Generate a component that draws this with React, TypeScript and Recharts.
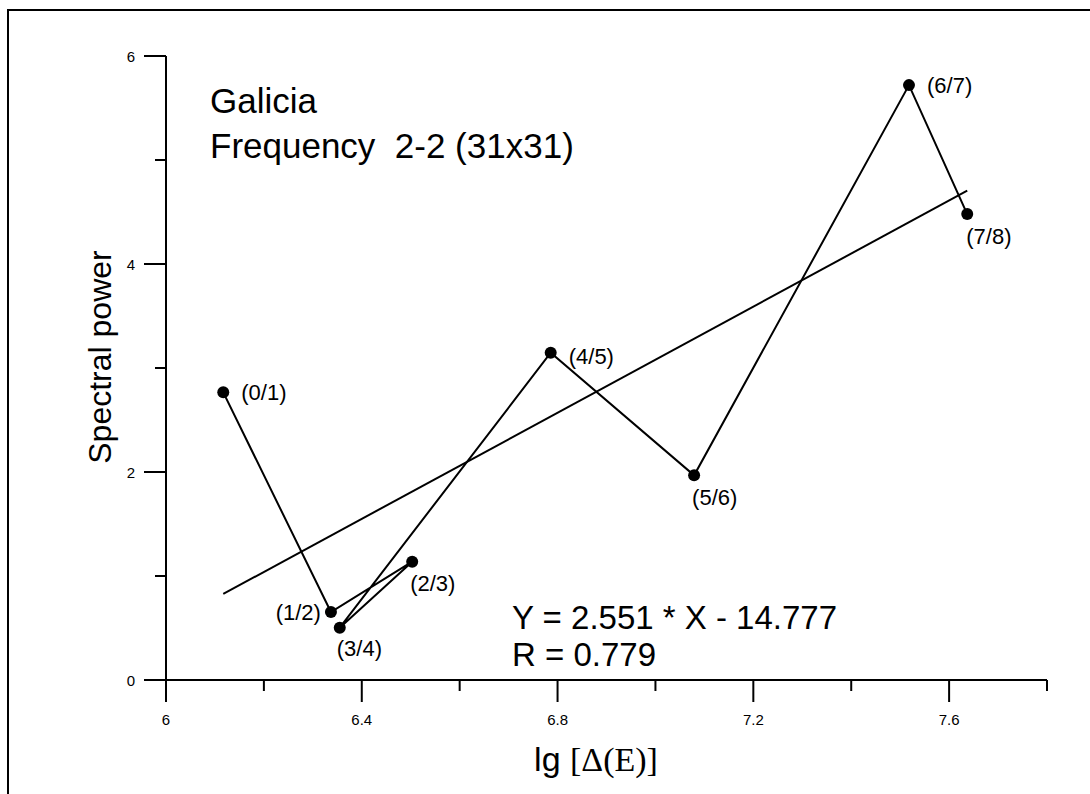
import React from "react";
import { ComposedChart, Line, XAxis, YAxis, ReferenceLine } from "recharts";

// lg[Δ(E)] vs spectral power, pairs of levels
const pairLabels = ["(0/1)", "(1/2)", "(2/3)", "(3/4)", "(4/5)", "(5/6)", "(6/7)", "(7/8)"];
const lgDeltaE = [6.117, 6.337, 6.503, 6.355, 6.786, 7.079, 7.518, 7.637];
const spectralPower = [2.766, 0.654, 1.138, 0.503, 3.147, 1.968, 5.72, 4.48];

// linear fit Y = a * X + b
const fitSlope = 2.551;
const fitIntercept = -14.777;
const fitR = 0.779;

const xTicks = [6, 6.2, 6.4, 6.6, 6.8, 7, 7.2, 7.4, 7.6, 7.8];
const xTickLabels = ["6", "", "6.4", "", "6.8", "", "7.2", "", "7.6", ""];
const yTicks = [0, 1, 2, 3, 4, 5, 6];
const yTickLabels = ["0", "", "2", "", "4", "", "6"];

// where each point's caption sits relative to the dot
const labelPlacement: [number, number, "start" | "end"][] = [
  [18, 0, "start"],
  [-10, 0, "end"],
  [-2, 21, "start"],
  [-3, 20, "start"],
  [18, 3, "start"],
  [-2, 22, "start"],
  [18, 0, "start"],
  [-1, 22, "start"],
];

const SANS = "'Liberation Sans', Arial, sans-serif";
const SERIF = "'Liberation Serif', 'Times New Roman', serif";

const points = lgDeltaE.map((x, i) => ({ x, y: spectralPower[i], name: pairLabels[i] }));
const xMin = Math.min(...lgDeltaE);
const xMax = Math.max(...lgDeltaE);
const fitPoints = [xMin, xMax].map((x) => ({ x, y: fitSlope * x + fitIntercept }));

const XTick = (props: any) => {
  const { x, y, index } = props;
  const label = xTickLabels[index];
  const len = label ? 22 : 11;
  return (
    <g>
      <line x1={x} y1={y} x2={x} y2={y + len} stroke="#000" strokeWidth={2} />
      {label && (
        <text x={x} y={y + 45} textAnchor="middle" fontSize={15} fontFamily={SANS} fill="#000">
          {label}
        </text>
      )}
    </g>
  );
};

const YTick = (props: any) => {
  const { x, y, index } = props;
  const label = yTickLabels[index];
  const len = label ? 22 : 11;
  return (
    <g>
      <line x1={x - len} y1={y} x2={x} y2={y} stroke="#000" strokeWidth={2} />
      {label && (
        <text x={x - 31} y={y + 5.5} textAnchor="end" fontSize={15} fontFamily={SANS} fill="#000">
          {label}
        </text>
      )}
    </g>
  );
};

const PairDot = (props: any) => {
  const { cx, cy, index } = props;
  const [dx, dy, anchor] = labelPlacement[index];
  return (
    <g key={`pt-${index}`}>
      <circle cx={cx} cy={cy} r={6} fill="#000" />
      <text
        x={cx + dx}
        y={cy + dy + 8}
        textAnchor={anchor}
        fontSize={22}
        fontFamily={SANS}
        fill="#000"
      >
        {pairLabels[index]}
      </text>
    </g>
  );
};

export default function App() {
  return (
    <div
      style={{
        position: "absolute",
        left: 0,
        top: 0,
        width: 1090,
        height: 794,
        background: "#fff",
        overflow: "hidden",
      }}
    >
      <div
        style={{
          position: "absolute",
          left: 7,
          top: 9,
          width: 1083,
          height: 785,
          boxSizing: "border-box",
          borderLeft: "2px solid #000",
          borderTop: "2px solid #000",
        }}
      />
      <ComposedChart
        width={1090}
        height={794}
        margin={{ top: 56, right: 43, bottom: 74, left: 106 }}
        style={{ position: "absolute", left: 0, top: 0 }}
      >
        <XAxis
          dataKey="x"
          type="number"
          domain={[6, 7.8]}
          ticks={xTicks}
          interval={0}
          allowDataOverflow
          height={40}
          tickLine={false}
          tickSize={0}
          tickMargin={0}
          tick={<XTick />}
          axisLine={{ stroke: "#000", strokeWidth: 2 }}
        />
        <YAxis
          type="number"
          domain={[0, 6]}
          ticks={yTicks}
          interval={0}
          allowDataOverflow
          width={60}
          tickLine={false}
          tickSize={0}
          tickMargin={0}
          tick={<YTick />}
          axisLine={{ stroke: "#000", strokeWidth: 2 }}
        />
        <ReferenceLine
          segment={[
            { x: 5.955, y: 0 },
            { x: 6, y: 0 },
          ]}
          ifOverflow="visible"
          stroke="#000"
          strokeWidth={2}
        />
        <Line
          data={fitPoints}
          dataKey="y"
          type="linear"
          stroke="#000"
          strokeWidth={2}
          dot={false}
          activeDot={false}
          isAnimationActive={false}
        />
        <Line
          data={points}
          dataKey="y"
          type="linear"
          stroke="#000"
          strokeWidth={2}
          dot={(p: any) => <PairDot key={`pt-${p.index}`} {...p} />}
          activeDot={false}
          isAnimationActive={false}
        />
        <text x={210} y={113} fontSize={35} fontFamily={SANS} fill="#000">
          Galicia
        </text>
        <text x={210} y={158} fontSize={35} fontFamily={SANS} fill="#000" style={{ whiteSpace: "pre" }}>
          {"Frequency  2-2 (31x31)"}
        </text>
        <text x={512} y={629} fontSize={33} fontFamily={SANS} fill="#000">
          {`Y = ${fitSlope.toFixed(3)} * X - ${Math.abs(fitIntercept).toFixed(3)}`}
        </text>
        <text x={512} y={666} fontSize={33} fontFamily={SANS} fill="#000">
          {`R = ${fitR.toFixed(3)}`}
        </text>
        <text
          x={0}
          y={0}
          transform="translate(111 357) rotate(-90)"
          textAnchor="middle"
          fontSize={32}
          fontFamily={SANS}
          fill="#000"
        >
          Spectral power
        </text>
        <text x={596} y={771} textAnchor="middle" fontSize={34} fill="#000" style={{ whiteSpace: "pre" }}>
          <tspan fontFamily={SANS}>{"lg "}</tspan>
          <tspan fontFamily={SERIF}>[Δ(E)]</tspan>
        </text>
      </ComposedChart>
    </div>
  );
}
